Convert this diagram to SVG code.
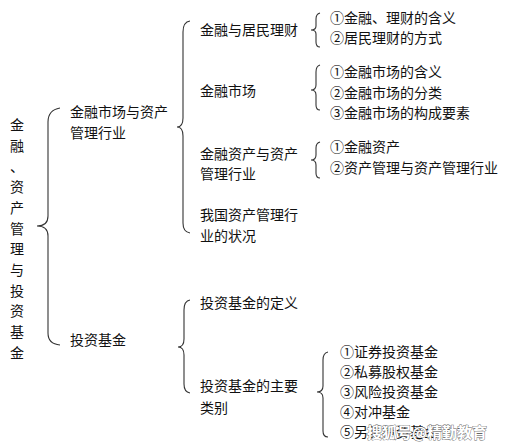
<svg xmlns="http://www.w3.org/2000/svg" width="505" height="447" viewBox="0 0 505 447">
<style>
text{font-family:"SimSun","Noto Sans CJK SC","Noto Sans CJK JP",sans-serif;font-size:14px;fill:#111}
.br{fill:none;stroke:#333;stroke-width:1.1}
.wm{font-size:15px;font-weight:bold;fill:#fff;stroke:#666;stroke-width:0.8;paint-order:stroke}
</style>
<rect width="505" height="447" fill="#fff"/>
<g id="connectors">
<path class="br" d="M60,108 Q48,110 48,122 L48,216 Q48,226 37,226 Q48,226 48,236 L48,333 Q48,344 60,345"/>
<path class="br" d="M190,21 Q183,22 183,32 L183,118 Q183,127 177,127 Q183,127 183,136 L183,223 Q183,232 190,233"/>
<path class="br" d="M190,300 Q184,301 184,310 L184,339 Q184,347 178,347 Q184,347 184,355 L184,384 Q184,392 190,393"/>
<path class="br" d="M320,13 Q316,14 316,19 L316,26 Q316,30 311,30 Q316,30 316,34 L316,42 Q316,47 320,47"/>
<path class="br" d="M320,65 Q316,66 316,72 L316,85 Q316,90 311,90 Q316,90 316,95 L316,105 Q316,110 320,110"/>
<path class="br" d="M320,142 Q316,143 316,148 L316,155 Q316,160 311,160 Q316,160 316,165 L316,173 Q316,178 320,178"/>
<path class="br" d="M328,352 Q323,353 323,360 L323,386 Q323,392 317,392 Q323,392 323,398 L323,431 Q323,437 328,437"/>
</g>
<g id="root">
<text x="17" y="130" text-anchor="middle">金</text>
<text x="17" y="151" text-anchor="middle">融</text>
<text x="17" y="172" text-anchor="middle">、</text>
<text x="17" y="192" text-anchor="middle">资</text>
<text x="17" y="213" text-anchor="middle">产</text>
<text x="17" y="234" text-anchor="middle">管</text>
<text x="17" y="254" text-anchor="middle">理</text>
<text x="17" y="275" text-anchor="middle">与</text>
<text x="17" y="296" text-anchor="middle">投</text>
<text x="17" y="316" text-anchor="middle">资</text>
<text x="17" y="337" text-anchor="middle">基</text>
<text x="17" y="358" text-anchor="middle">金</text>
</g>
<g id="n-market-industry">
<text x="70" y="117">金融市场与资产</text>
<text x="70" y="138">管理行业</text>
</g>
<g id="n-fund">
<text x="70" y="345">投资基金</text>
</g>
<g id="n-finance-wealth">
<text x="200" y="35">金融与居民理财</text>
</g>
<g id="n-market">
<text x="200" y="96">金融市场</text>
</g>
<g id="n-assets">
<text x="200" y="159">金融资产与资产</text>
<text x="200" y="179">管理行业</text>
</g>
<g id="n-status">
<text x="200" y="220">我国资产管理行</text>
<text x="200" y="241">业的状况</text>
</g>
<g id="n-fund-def">
<text x="200" y="308">投资基金的定义</text>
</g>
<g id="n-fund-types">
<text x="200" y="391">投资基金的主要</text>
<text x="200" y="413">类别</text>
</g>
<g id="l-finance-wealth">
<text x="330" y="23">①金融、理财的含义</text>
<text x="330" y="43">②居民理财的方式</text>
</g>
<g id="l-market">
<text x="330" y="77">①金融市场的含义</text>
<text x="330" y="98">②金融市场的分类</text>
<text x="330" y="118">③金融市场的构成要素</text>
</g>
<g id="l-assets">
<text x="330" y="152">①金融资产</text>
<text x="330" y="173">②资产管理与资产管理行业</text>
</g>
<g id="l-fund-types">
<text x="340" y="357">①证券投资基金</text>
<text x="340" y="377">②私募股权基金</text>
<text x="340" y="397">③风险投资基金</text>
<text x="340" y="417">④对冲基金</text>
<text x="340" y="437">⑤另类投资基金</text>
</g>
<text class="wm" x="367" y="438">搜狐号@精勤教育</text>
</svg>
